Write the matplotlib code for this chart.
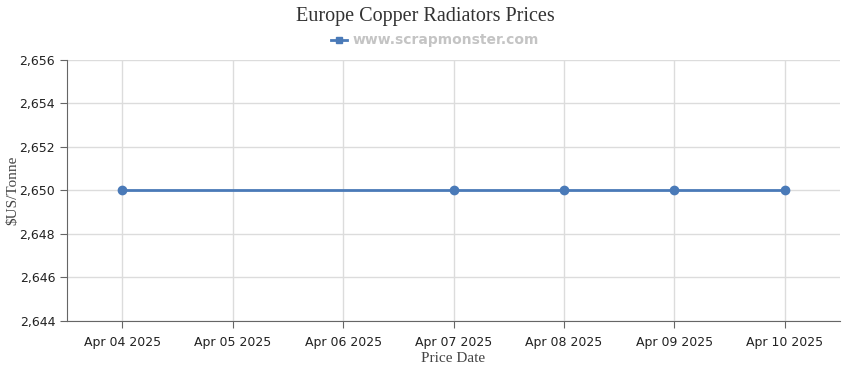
import matplotlib.pyplot as plt
import matplotlib.dates as mdates
import numpy as np
import pandas as pd

# Data
dates = pd.to_datetime(["2025-04-04", "2025-04-07", "2025-04-08", "2025-04-09", "2025-04-10"])
prices = [2650, 2650, 2650, 2650, 2650]
tick_dates = pd.date_range("2025-04-04", "2025-04-10", freq="D")
y_ticks = [2644, 2646, 2648, 2650, 2652, 2654, 2656]

line_color = "#4a7ab8"
serif = ["Liberation Serif", "DejaVu Serif"]

fig = plt.figure(figsize=(8.5, 3.7), dpi=100)
ax = fig.add_axes([67 / 850, 49 / 370, 773 / 850, 261 / 370])

ax.plot(dates, prices, color=line_color, linewidth=2, marker="o", markersize=6)

ax.set_xlim(tick_dates[0] - pd.Timedelta(hours=12), tick_dates[-1] + pd.Timedelta(hours=12))
ax.set_ylim(2644, 2656)
ax.set_xticks(tick_dates)
ax.set_xticklabels([d.strftime("%b %d %Y") for d in tick_dates])
ax.set_yticks(y_ticks)
ax.set_yticklabels([f"{v:,}" for v in y_ticks])

ax.grid(True, color="#dcdcdc", linewidth=1)
ax.set_axisbelow(True)
for s in ["top", "right"]:
    ax.spines[s].set_visible(False)
for s in ["left", "bottom"]:
    ax.spines[s].set_color("#666666")
ax.tick_params(axis="both", colors="#666666", labelcolor="#222222", labelsize=9, length=5)
ax.tick_params(axis="x", pad=6)

ax.set_xlabel("Price Date", fontsize=11, family=serif, color="#444444", labelpad=2)
fig.text(13 / 850, 1 - 190 / 370, "$US/Tonne", rotation=90, ha="center", va="center",
         fontsize=11, family=serif, color="#444444")

fig.text(0.5, 1 - 16 / 370, "Europe Copper Radiators Prices", ha="center", va="center",
         fontsize=14.5, family=serif, color="#333333")
# legend
fig.add_artist(plt.Line2D([331 / 850, 347 / 850], [1 - 40 / 370] * 2, color=line_color,
                          linewidth=2, transform=fig.transFigure))
fig.add_artist(plt.Line2D([339 / 850], [1 - 40 / 370], color=line_color, marker="s",
                          markersize=5, linestyle="none", transform=fig.transFigure))
fig.text(353 / 850, 1 - 40 / 370, "www.scrapmonster.com", ha="left", va="center",
         fontsize=10, fontweight="bold", color="#c4c4c4")

fig.savefig("out.png", dpi=100)
